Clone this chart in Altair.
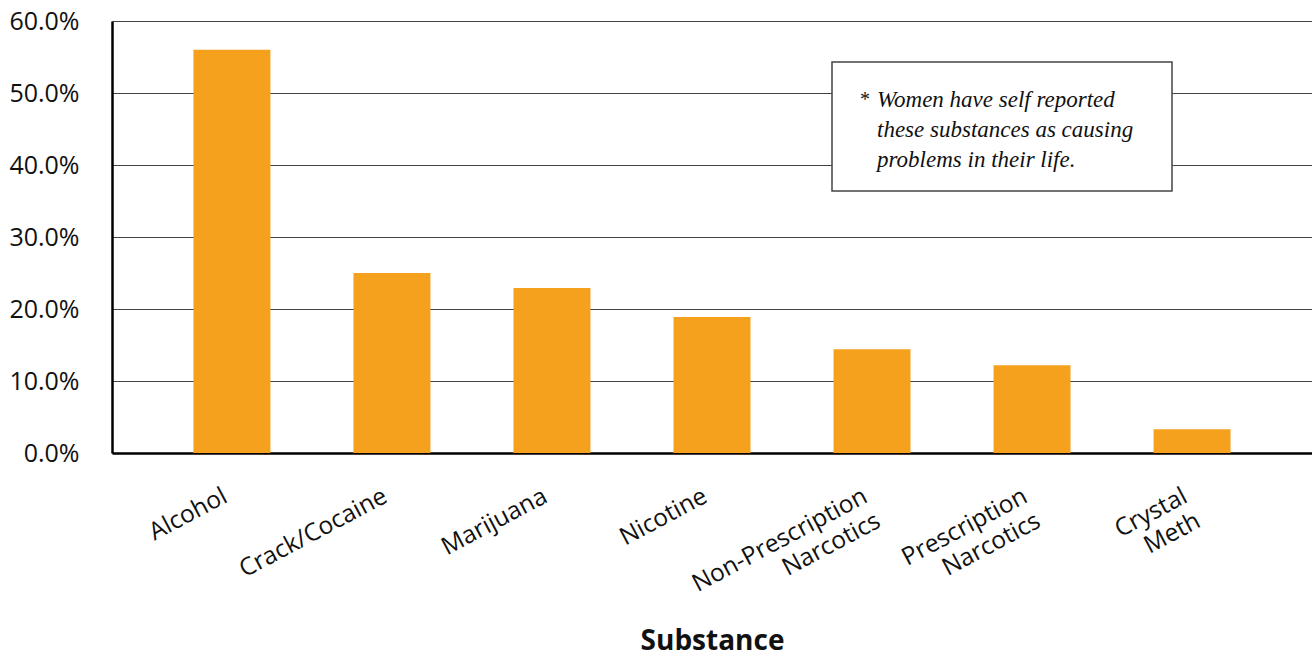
import altair as alt
import pandas as pd

categories = ["Alcohol", "Crack/Cocaine", "Marijuana", "Nicotine",
              "Non-Prescription\nNarcotics", "Prescription\nNarcotics", "Crystal\nMeth"]
values = [0.560, 0.250, 0.229, 0.189, 0.144, 0.122, 0.033]
y_ticks = [0.0, 0.1, 0.2, 0.3, 0.4, 0.5, 0.6]
note_lines = ["Women have self reported", "these substances as causing", "problems in their life."]
x_title = "Substance"

df = pd.DataFrame({"substance": categories, "share": values})

SANS = "Open Sans"
SERIF = "Liberation Serif"

bars = alt.Chart(df).mark_bar(color="#F5A11E").encode(
    x=alt.X("substance:N", sort=categories,
            scale=alt.Scale(paddingInner=0.519, paddingOuter=0.509),
            axis=alt.Axis(title=x_title, labelAngle=-28, labelAlign="right",
                          labelBaseline="top", labelPadding=31, labelLineHeight=28,
                          labelOffset=-12, labelLimit=400,
                          labelExpr="split(datum.label, '\\n')",
                          labelFont=SANS, labelFontSize=24.5, labelColor="#111",
                          ticks=False, grid=False,
                          domainColor="#000", domainWidth=2.5,
                          titleFont=SANS, titleFontSize=28, titleFontWeight="bold",
                          titleColor="#111", titleY=196, titleBaseline="alphabetic")),
    y=alt.Y("share:Q", scale=alt.Scale(domain=[0, 0.6], nice=False),
            axis=alt.Axis(title=None, values=y_ticks, format=".1%",
                          labelFont=SANS, labelFontSize=25, labelColor="#111",
                          labelPadding=33, ticks=False,
                          grid=True, gridColor="#444", gridWidth=1.2,
                          domainColor="#000", domainWidth=2.5)),
)

one = pd.DataFrame({"k": [0]})

box = alt.Chart(one).mark_rect(fill="white", stroke="#444", strokeWidth=1.5).encode(
    x=alt.value(720), x2=alt.value(1060), y=alt.value(41), y2=alt.value(170)
)

star = alt.Chart(one).mark_text(align="left", baseline="alphabetic", font=SERIF,
                                fontSize=20, color="#111").encode(
    x=alt.value(748), y=alt.value(85), text=alt.value("*")
)

note = alt.Chart(one).mark_text(align="left", baseline="alphabetic", font=SERIF,
                                fontStyle="italic", fontSize=23, lineHeight=30,
                                color="#111").encode(
    x=alt.value(765), y=alt.value(86), text=alt.value(note_lines)
)

chart = alt.layer(bars, box, star, note).properties(
    width=1200, height=432,
    autosize=alt.AutoSizeParams(type="none"),
    padding={"left": 112, "top": 21, "right": 0, "bottom": 203},
).configure_view(stroke=None).configure(background="white")

chart.save("out.html", embed_options={"renderer": "svg", "actions": False})
